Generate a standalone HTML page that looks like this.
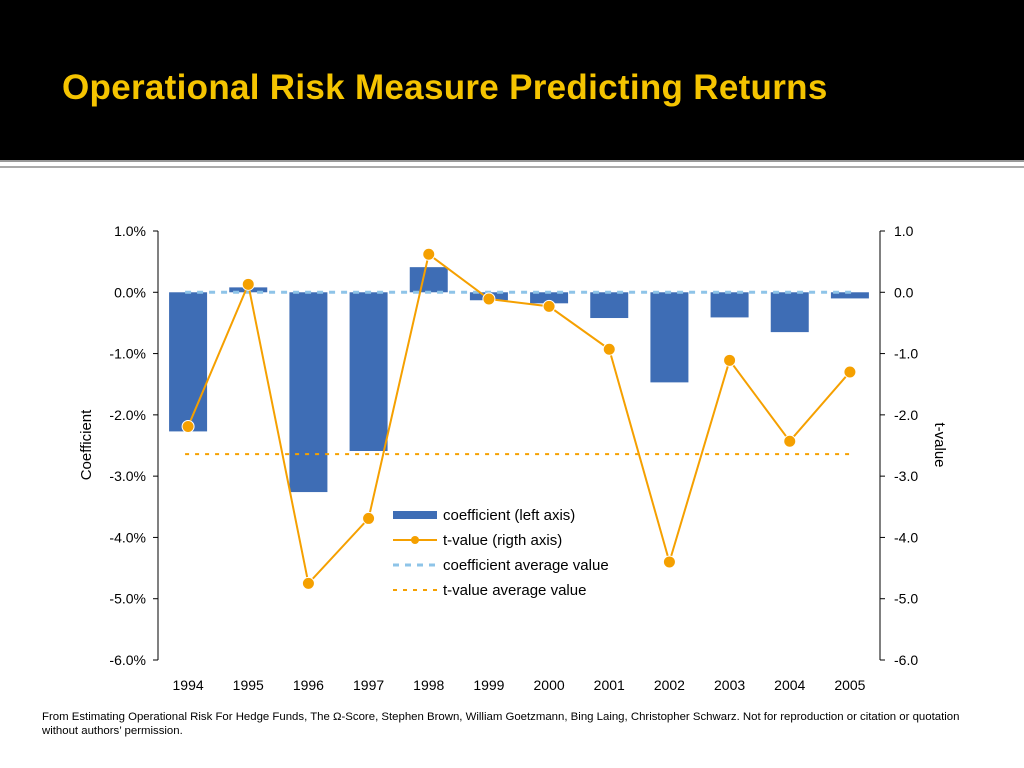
<!DOCTYPE html>
<html><head><meta charset="utf-8"><style>
body{margin:0;width:1024px;height:768px;overflow:hidden;background:#fff;font-family:"Liberation Sans",sans-serif}
#hdr{position:absolute;left:0;top:0;width:1024px;height:160px;background:#000}
#title{position:absolute;left:62px;top:68px;color:#f5c400;font-size:35px;font-weight:bold;letter-spacing:0.3px}
#l1{position:absolute;left:0;top:160px;width:1024px;height:2px;background:#999}
#l2{position:absolute;left:0;top:166px;width:1024px;height:2px;background:#aaa}
#foot{position:absolute;left:42px;top:710px;font-size:11.4px;color:#000;line-height:14px;width:980px;white-space:nowrap}
svg{position:absolute;left:0;top:0}
</style></head><body>
<div id="hdr"></div>
<div id="title">Operational Risk Measure Predicting Returns</div>
<div id="l1"></div>
<div id="l2"></div>
<svg id="chart" width="1024" height="768"></svg>
<div id="foot">From Estimating Operational Risk For Hedge Funds, The Ω-Score, Stephen Brown, William Goetzmann, Bing Laing, Christopher Schwarz. Not for reproduction or citation or quotation<br>without authors’ permission.</div>
<script>
const years=["1994","1995","1996","1997","1998","1999","2000","2001","2002","2003","2004","2005"];
const coef=[-2.27,0.08,-3.26,-2.59,0.41,-0.13,-0.18,-0.42,-1.47,-0.41,-0.65,-0.10];
const tval=[-2.19,0.13,-4.75,-3.69,0.62,-0.11,-0.23,-0.93,-4.40,-1.11,-2.43,-1.30];
const coefAvg=0.0;
const tAvg=-2.64;
const leftTicks=[1,0,-1,-2,-3,-4,-5,-6];
const rightTicks=[1,0,-1,-2,-3,-4,-5,-6];
const svg=document.getElementById('chart');
const NS='http://www.w3.org/2000/svg';
const X0=158,X1=880,Ytop=231,Ybot=660;
const yL=v=>Ytop+(1-v)*(Ybot-Ytop)/7;
const yR=v=>Ytop+(1-v)*(Ybot-Ytop)/7;
const step=(X1-X0)/years.length;
const xC=i=>X0+step*(i+0.5);
function mk(t,a,p){const e=document.createElementNS(NS,t);for(const k in a)e.setAttribute(k,a[k]);(p||svg).appendChild(e);return e;}
let e;
e=mk('line',{x1:X0,y1:Ytop,x2:X0,y2:Ybot,stroke:'#000','stroke-width':1});

e=mk('line',{x1:X1,y1:Ytop,x2:X1,y2:Ybot,stroke:'#000','stroke-width':1});

leftTicks.forEach(v=>{const y=yL(v);
 mk('line',{x1:X0-5,y1:y,x2:X0,y2:y,stroke:'#000'});
 e=mk('text',{x:X0-12,y:y+5,'text-anchor':'end','font-size':14});e.textContent=v.toFixed(1)+'%';
 });
rightTicks.forEach(v=>{const y=yR(v);
 mk('line',{x1:X1,y1:y,x2:X1+5,y2:y,stroke:'#000'});
 e=mk('text',{x:X1+14,y:y+5,'font-size':14});e.textContent=v.toFixed(1);
 });
years.forEach((yr,i)=>{e=mk('text',{x:xC(i),y:690,'text-anchor':'middle','font-size':14});e.textContent=yr;
 });
coef.forEach((v,i)=>{const y0=yL(0),y1=yL(v);
 e=mk('rect',{x:xC(i)-19,y:Math.min(y0,y1),width:38,height:Math.abs(y1-y0),fill:'#3e6db5'});
 });
e=mk('line',{x1:xC(0)-3,y1:yL(coefAvg),x2:xC(11)+3,y2:yL(coefAvg),stroke:'#8ec4e8','stroke-width':3,'stroke-dasharray':'6,6'});

e=mk('line',{x1:xC(0)-3,y1:yR(tAvg),x2:xC(11)+3,y2:yR(tAvg),stroke:'#f5a000','stroke-width':2,'stroke-dasharray':'4,6'});

e=mk('polyline',{points:tval.map((v,i)=>xC(i)+','+yR(v)).join(' '),fill:'none',stroke:'#f5a000','stroke-width':2});

tval.forEach((v,i)=>{e=mk('circle',{cx:xC(i),cy:yR(v),r:6,fill:'#f5a000',stroke:'#fff','stroke-width':1});
 });
e=mk('text',{x:0,y:0,'font-size':15,transform:'translate(91,445) rotate(-90)','text-anchor':'middle'});e.textContent='Coefficient';

e=mk('text',{x:0,y:0,'font-size':15,transform:'translate(935,445) rotate(90)','text-anchor':'middle'});e.textContent='t-value';

const lg=[['coefficient (left axis)','bar'],['t-value (rigth axis)','line'],['coefficient average value','cdash'],['t-value average value','tdash']];
lg.forEach((it,k)=>{const y=515+k*25;const g=mk('g',{});
 
 if(it[1]=='bar')mk('rect',{x:393,y:y-4,width:44,height:8,fill:'#3e6db5'},g);
 if(it[1]=='line'){mk('line',{x1:393,y1:y,x2:437,y2:y,stroke:'#f5a000','stroke-width':2},g);mk('circle',{cx:415,cy:y,r:4,fill:'#f5a000'},g);}
 if(it[1]=='cdash')mk('line',{x1:393,y1:y,x2:437,y2:y,stroke:'#8ec4e8','stroke-width':3,'stroke-dasharray':'6,6'},g);
 if(it[1]=='tdash')mk('line',{x1:393,y1:y,x2:437,y2:y,stroke:'#f5a000','stroke-width':2,'stroke-dasharray':'4,6'},g);
 const t=mk('text',{x:443,y:y+5,'font-size':15},g);t.textContent=it[0];});
</script>
</body></html>
